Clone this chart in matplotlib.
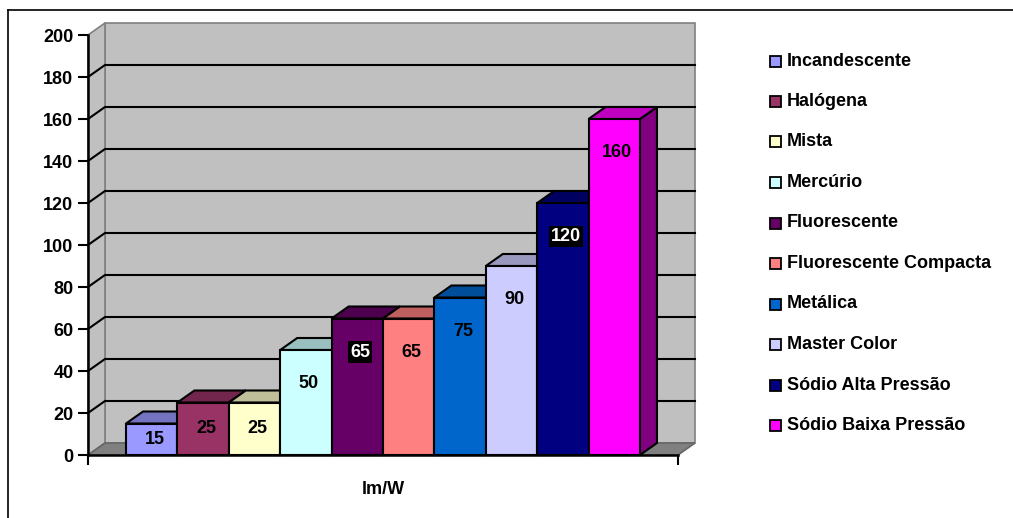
import numpy as np
import matplotlib
matplotlib.use('Agg')
import matplotlib.pyplot as plt
from matplotlib.patches import Polygon, Rectangle
from matplotlib.lines import Line2D
from matplotlib import colors as mcolors

plt.rcParams['font.family'] = ['Liberation Sans', 'DejaVu Sans']
plt.rcParams['font.weight'] = 'bold'
plt.rcParams['font.size'] = 13

# luminous efficiency by lamp type
lamps = ['Incandescente', 'Halógena', 'Mista', 'Mercúrio', 'Fluorescente',
         'Fluorescente Compacta', 'Metálica', 'Master Color',
         'Sódio Alta Pressão', 'Sódio Baixa Pressão']
lm_w = [15, 25, 25, 50, 65, 65, 75, 90, 120, 160]
bar_colors = ['#9999FF', '#993366', '#FFFFCC', '#CCFFFF', '#660066',
              '#FF8080', '#0066CC', '#CCCCFF', '#000080', '#FF00FF']
boxed_labels = ['Fluorescente', 'Sódio Alta Pressão']
yticks = np.arange(0, 201, 20)
xlabel = 'lm/W'

W, H = 1013, 518
fig = plt.figure(figsize=(W / 100, H / 100), dpi=100)
ax = fig.add_axes([88 / W, 63 / H, 590 / W, 420 / H])
x0, x1 = -0.74, len(lamps) + 0.74
ax.set_xlim(x0, x1)
ax.set_ylim(0, 200)
ax.patch.set_visible(False)

# depth of the 3d box, 17 px right and 12 px up, in data units
ddx = 17 * (x1 - x0) / 590
ddy = 12 * 200 / 420
px = (x1 - x0) / 590

wall = '#C0C0C0'
edge = '#808080'
kw = dict(clip_on=False, joinstyle='miter')

# walls and floor
ax.add_patch(Polygon([(x0 + ddx, ddy), (x1 + ddx, ddy), (x1 + ddx, 200 + ddy),
                      (x0 + ddx, 200 + ddy)], fc=wall, ec=edge, lw=1.2, zorder=0.1, **kw))
ax.add_patch(Polygon([(x0, 0), (x0 + ddx, ddy), (x0 + ddx, 200 + ddy), (x0, 200)],
                     fc=wall, ec=edge, lw=1.2, zorder=0.2, **kw))
ax.add_patch(Polygon([(x0, 0), (x1, 0), (x1 + ddx, ddy), (x0 + ddx, ddy)],
                     fc='#808080', ec='#666666', lw=1.2, zorder=0.3, **kw))

# gridlines across the left wall and the back wall
for t in yticks[1:-1]:
    ax.plot([x0, x0 + ddx, x1 + ddx], [t, t + ddy, t + ddy], color='black',
            lw=1.5, clip_on=False, zorder=0.4, solid_joinstyle='miter')

# bars: side, top, then front face
for i, (v, c) in enumerate(zip(lm_w, bar_colors)):
    rgb = np.array(mcolors.to_rgb(c))
    side = [(i + 1, 0), (i + 1 + ddx, ddy), (i + 1 + ddx, v + ddy), (i + 1, v)]
    top = [(i, v), (i + 1, v), (i + 1 + ddx, v + ddy), (i + ddx, v + ddy)]
    ax.add_patch(Polygon(side, fc=rgb * 0.5, ec='black', lw=1.5, zorder=1, **kw))
    ax.add_patch(Polygon(top, fc=rgb * 0.75, ec='black', lw=1.5, zorder=1, **kw))
    ax.add_patch(Rectangle((i, 0), 1, v, fc=c, ec='black', lw=1.5, zorder=1, **kw))

    ly = max(v - 16, v / 2)
    if lamps[i] in boxed_labels:
        ax.text(i + 0.5 + 3 * px, ly, str(v), ha='center', va='center', color='white',
                fontweight='bold', zorder=3,
                bbox=dict(facecolor='black', edgecolor='none', pad=1.5))
    else:
        ax.text(i + 0.5 + 3 * px, ly, str(v), ha='center', va='center', color='black',
                fontweight='bold', zorder=3)

# axes lines and ticks
for s in ['top', 'right']:
    ax.spines[s].set_visible(False)
for s in ['left', 'bottom']:
    ax.spines[s].set_linewidth(1.8)
    ax.spines[s].set_color('black')
ax.set_yticks(yticks)
ax.set_yticklabels([str(t) for t in yticks], fontweight='bold')
ax.set_xticks([x0, x1])
ax.set_xticklabels([])
ax.tick_params(direction='out', length=7, width=1.5, pad=3.5)
ax.text(0.5, -35 / 420, xlabel, transform=ax.transAxes, ha='center', va='center',
        fontweight='bold')

# legend
for k, (name, c) in enumerate(zip(lamps, bar_colors)):
    yc = 61 + k * 40.5
    fig.patches.append(Rectangle((770 / W, 1 - (yc + 5.5) / H), 11 / W, 11 / H,
                                 fc=c, ec='black', lw=1.3, transform=fig.transFigure))
    fig.text(787 / W, 1 - yc / H, name, ha='left', va='center', fontweight='bold')

# chart border
fig.add_artist(Line2D([8 / W, 8 / W], [0, 1 - 10 / H], color='black', lw=1.2))
fig.add_artist(Line2D([8 / W, 1], [1 - 10 / H, 1 - 10 / H], color='black', lw=1.2))

fig.savefig('out.png', dpi=100)
